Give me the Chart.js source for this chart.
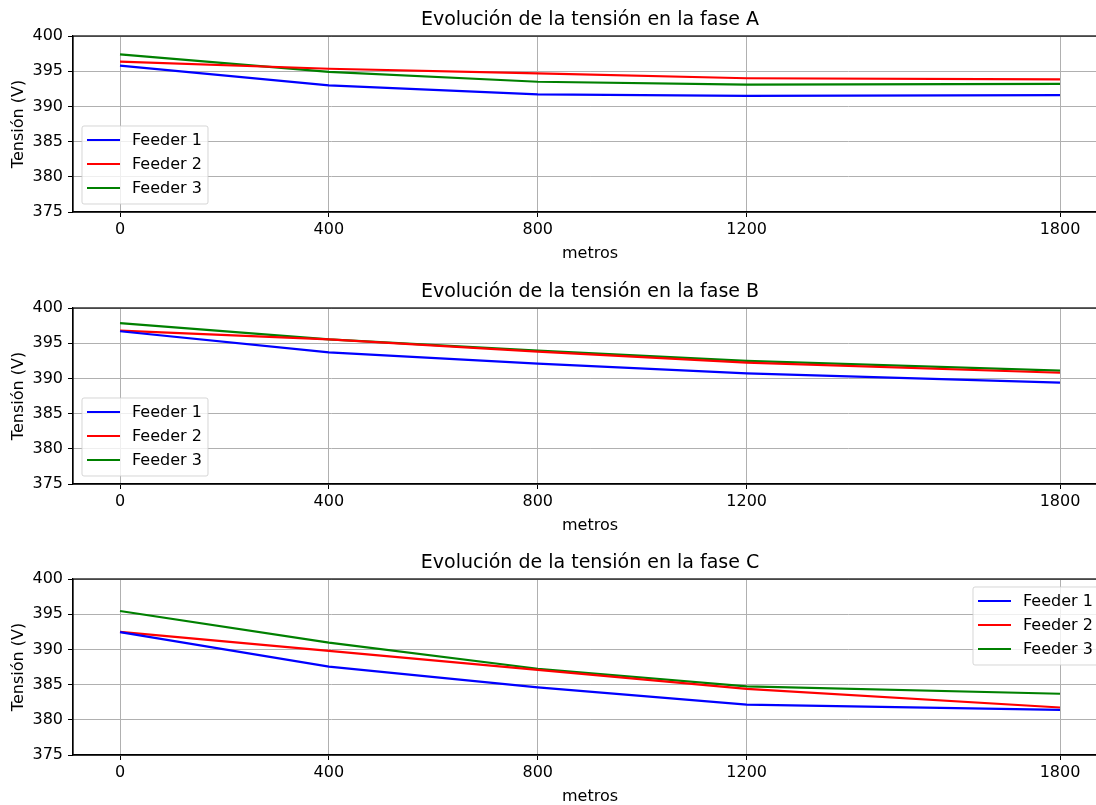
<!DOCTYPE html>
<html>
<head>
<meta charset="utf-8">
<script src="https://cdn.jsdelivr.net/npm/chart.js@4.4.0/dist/chart.umd.min.js"></script>
<style>
  html, body { margin: 0; padding: 0; background: #fff; overflow: hidden; width: 1096px; height: 805px; }
  .panel { position: absolute; left: 0; }
</style>
</head>
<body>
<canvas class="panel" id="faseA" width="1112" height="268" style="top:0px"></canvas>
<canvas class="panel" id="faseB" width="1112" height="268" style="top:272px"></canvas>
<canvas class="panel" id="faseC" width="1112" height="268" style="top:543px"></canvas>
<script>
const metros = [0, 400, 800, 1200, 1800];
const xTicks = [0, 400, 800, 1200, 1800];
const feeders = ["Feeder 1", "Feeder 2", "Feeder 3"];
const colors = ["#0000ff", "#ff0000", "#008000"];

const faseA_feeder1 = [395.8, 393.0, 391.7, 391.5, 391.6];
const faseA_feeder2 = [396.35, 395.35, 394.7, 394.0, 393.85];
const faseA_feeder3 = [397.4, 394.9, 393.5, 393.1, 393.2];

const faseB_feeder1 = [396.7, 393.7, 392.1, 390.7, 389.4];
const faseB_feeder2 = [396.8, 395.55, 393.8, 392.25, 390.8];
const faseB_feeder3 = [397.85, 395.55, 393.95, 392.5, 391.1];

const faseC_feeder1 = [392.45, 387.55, 384.6, 382.15, 381.4];
const faseC_feeder2 = [392.5, 389.8, 387.1, 384.4, 381.75];
const faseC_feeder3 = [395.45, 390.95, 387.25, 384.75, 383.7];

Chart.defaults.font.family = "'DejaVu Sans', sans-serif";
Chart.defaults.color = "#000";

// matplotlib style box round the axes + legend inside the plot
const frame = {
  id: "frame",
  afterDatasetsDraw(chart) {
    const { ctx, chartArea: a } = chart;
    ctx.save();
    ctx.strokeStyle = "#000";
    ctx.lineWidth = 1.2;
    ctx.strokeRect(a.left, a.top, a.right - a.left, a.bottom - a.top);
    ctx.restore();
  },
};

const mplLegend = {
  id: "mplLegend",
  afterDraw(chart, args, opts) {
    const { ctx, chartArea: a } = chart;
    const w = 126, h = 78, pad = 8;
    const x = opts.loc === "upper right" ? a.right - pad - w : a.left + pad + 1;
    const y = opts.loc === "upper right" ? a.top + pad : a.bottom - pad - h;
    ctx.save();
    ctx.beginPath();
    ctx.roundRect(x, y, w, h, 2);
    ctx.fillStyle = "rgba(255,255,255,0.8)";
    ctx.fill();
    ctx.strokeStyle = "rgba(204,204,204,0.8)";
    ctx.lineWidth = 1;
    ctx.stroke();
    ctx.font = "16px 'DejaVu Sans', sans-serif";
    ctx.textBaseline = "middle";
    chart.data.datasets.forEach((ds, i) => {
      const rowY = y + 14 + i * 24;
      ctx.strokeStyle = ds.borderColor;
      ctx.lineWidth = 2.2;
      ctx.beginPath();
      ctx.moveTo(x + 5, rowY);
      ctx.lineTo(x + 38, rowY);
      ctx.stroke();
      ctx.fillStyle = "#000";
      ctx.fillText(ds.label, x + 50, rowY + 1);
    });
    ctx.restore();
  },
};

const makeChart = (id, fase, series, loc) => {
  const datasets = series.map((values, i) => ({
    label: feeders[i],
    data: metros.map((m, j) => ({ x: m, y: values[j] })),
    borderColor: colors[i],
    borderWidth: 2.2,
    pointRadius: 0,
    tension: 0,
  }));

  new Chart(document.getElementById(id), {
    type: "line",
    data: { datasets },
    plugins: [frame, mplLegend],
    options: {
      responsive: false,
      animation: false,
      layout: { padding: { left: 0, right: 5, top: 0, bottom: 0 } },
      plugins: {
        legend: { display: false },
        tooltip: { enabled: false },
        mplLegend: { loc },
        title: {
          display: true,
          text: "Evolución de la tensión en la fase " + fase,
          fullSize: false,
          color: "#000",
          font: { size: 19, weight: "normal" },
          padding: { top: 8.6, bottom: 4.6 },
        },
      },
      scales: {
        x: {
          type: "linear",
          min: -90,
          max: 1890,
          afterBuildTicks: (scale) => {
            scale.ticks = xTicks.map((v) => ({ value: v }));
          },
          afterFit: (scale) => {
            scale.height = 56;
          },
          ticks: {
            font: { size: 16 },
            color: "#000",
            padding: 3,
            maxRotation: 0,
            callback: (v) => String(v),
          },
          grid: { color: "#b0b0b0", lineWidth: 1, tickColor: "#000", tickLength: 5 },
          border: { color: "#000", width: 1.2 },
          title: {
            display: true,
            text: "metros",
            color: "#000",
            font: { size: 16 },
            padding: { top: 2, bottom: 5 },
          },
        },
        y: {
          min: 375,
          max: 400,
          afterFit: (scale) => {
            scale.width = 73;
          },
          ticks: { stepSize: 5, font: { size: 16 }, color: "#000", padding: 5 },
          grid: { color: "#b0b0b0", lineWidth: 1, tickColor: "#000", tickLength: 5 },
          border: { color: "#000", width: 1.2 },
          title: {
            display: true,
            text: "Tensión (V)",
            color: "#000",
            font: { size: 16 },
            padding: { top: 9, bottom: 0 },
          },
        },
      },
    },
  });
};

makeChart("faseA", "A", [faseA_feeder1, faseA_feeder2, faseA_feeder3], "lower left");
makeChart("faseB", "B", [faseB_feeder1, faseB_feeder2, faseB_feeder3], "lower left");
makeChart("faseC", "C", [faseC_feeder1, faseC_feeder2, faseC_feeder3], "upper right");
</script>
</body>
</html>
